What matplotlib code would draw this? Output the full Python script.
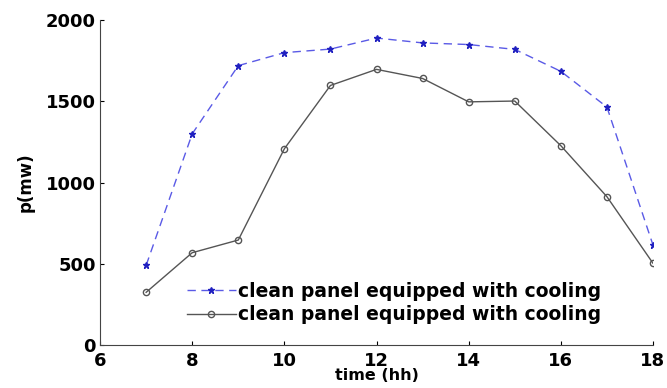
import matplotlib
matplotlib.use("Agg")
import matplotlib.pyplot as plt

# dados
horas = [7, 8, 9, 10, 11, 12, 13, 14, 15, 16, 17, 18]
p_azul = [490, 1300, 1720, 1800, 1822, 1890, 1860, 1850, 1820, 1685, 1465, 615]
p_preto = [324, 568, 646, 1208, 1598, 1697, 1641, 1497, 1502, 1227, 913, 503]
legenda = ["clean panel equipped with cooling", "clean panel equipped with cooling"]
xticks = [6, 8, 10, 12, 14, 16, 18]
yticks = [0, 500, 1000, 1500, 2000]

plt.rcParams["font.family"] = ["DejaVu Sans"]
plt.rcParams["font.weight"] = "bold"

fig = plt.figure(figsize=(6.67, 3.88), dpi=100)
ax = fig.add_axes([0.15, 0.111, 0.829, 0.837])

ax.plot(horas, p_azul, linestyle=(0, (6, 4)), color="#5a5ae6", lw=1.0,
        marker="*", markersize=5, markerfacecolor="#2020c0", markeredgecolor="#2020c0",
        label=legenda[0])
ax.plot(horas, p_preto, linestyle="-", color="#555555", lw=1.0,
        marker="o", markersize=4.5, markerfacecolor="none", markeredgecolor="#555555",
        label=legenda[1])

ax.set_xlim(6, 18)
ax.set_ylim(0, 2000)
ax.set_xticks(xticks)
ax.set_yticks(yticks)
ax.tick_params(direction="in", length=3, labelsize=13, width=0.8)
ax.tick_params(axis="x", pad=5)
ax.tick_params(axis="y", pad=3)
for s in ["top", "right"]:
    ax.spines[s].set_visible(False)
for s in ["left", "bottom"]:
    ax.spines[s].set_color("#444444")

ax.set_xlabel("time (hh)", fontsize=11.5, fontweight="bold", labelpad=-1)
ax.set_ylabel("p(mw)", fontsize=12, fontweight="bold", labelpad=8)

ax.legend(loc="lower left", bbox_to_anchor=(0.14, 0.035), frameon=False,
          prop={"size": 13.5, "weight": "bold"}, handlelength=2.6,
          handletextpad=0.15, labelspacing=0.25, borderpad=0)

fig.savefig("out.png", dpi=100)
